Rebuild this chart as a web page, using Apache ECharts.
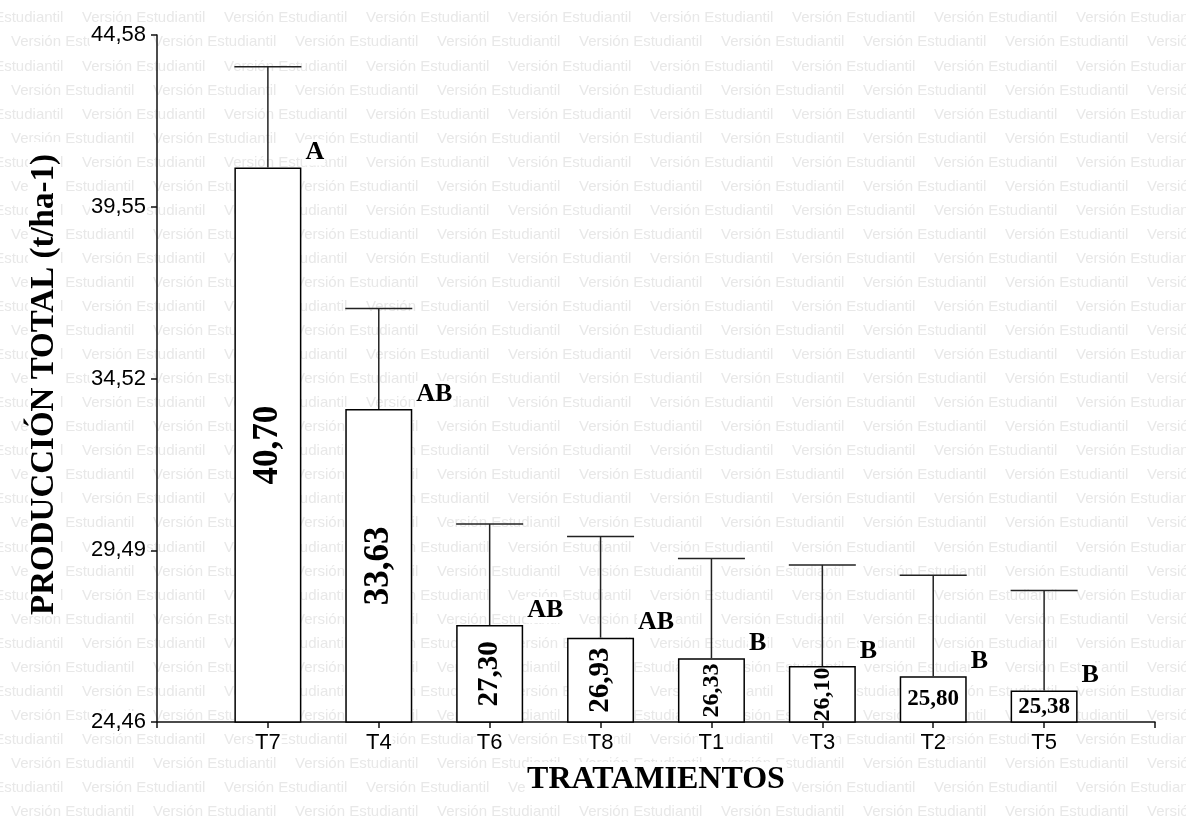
<!DOCTYPE html>
<html><head><meta charset="utf-8">
<script src="https://cdn.jsdelivr.net/npm/echarts@6/dist/echarts.min.js"></script>
<style>html,body{margin:0;padding:0;background:#fff}#c{width:1186px;height:816px}</style>
</head><body><div id="c"></div>
<script>
// ---- data ----
const categories = ['T7', 'T4', 'T6', 'T8', 'T1', 'T3', 'T2', 'T5'];
const means = [40.70, 33.63, 27.30, 26.93, 26.33, 26.10, 25.80, 25.38];
const errorTops = [43.65, 36.57, 30.26, 29.89, 29.25, 29.06, 28.76, 28.31];
const groupLetters = ['A', 'AB', 'AB', 'AB', 'B', 'B', 'B', 'B'];
const yTicks = [24.46, 29.49, 34.52, 39.55, 44.58];
const yTitle = 'PRODUCCIÓN TOTAL (t/ha-1)';
const xTitle = 'TRATAMIENTOS';
const watermarkText = 'Versión Estudiantil';

// ---- styles ----
const valueFont = [35, 35, 29, 29, 24, 24, 23, 23];
const valueRotate = [90, 90, 90, 90, 90, 90, 0, 0];
const SERIF = '"Liberation Serif", "Times New Roman", serif';
const SANS = '"Liberation Sans", Arial, sans-serif';
const fmt = v => Number(v).toFixed(2).replace('.', ',');

const axisCats = [''].concat(categories, ['']);

// watermark
const wm = [];
for (let r = 0; r < 35; r++) {
  const y = 18.3 + 24.05 * r;
  let x = (r % 2 === 0 ? 82 : 11) - 142;
  for (; x < 1200; x += 142) {
    wm.push({ type: 'text', x: x, y: y, z: -10, silent: true,
      style: { text: watermarkText, fill: '#e8e8e8', font: '15px ' + SANS, verticalAlign: 'middle', align: 'left' } });
  }
}

const chart = echarts.init(document.getElementById('c'), null, { renderer: 'canvas' });
chart.setOption({
  animation: false,
  backgroundColor: '#fff',
  graphic: { elements: wm },
  grid: { left: 157, right: 31, top: 35, bottom: 94, containLabel: false, outerBoundsMode: 'none' },
  xAxis: {
    type: 'category',
    data: axisCats,
    boundaryGap: false,
    name: xTitle,
    nameLocation: 'middle',
    nameGap: 40,
    nameTextStyle: { fontFamily: SERIF, fontWeight: 'bold', fontSize: 32, color: '#000', backgroundColor: '#fff', padding: [2, 2] },
    axisLine: { onZero: false, lineStyle: { color: '#111', width: 1.5 } },
    axisTick: { show: true, interval: 0, length: 6, lineStyle: { color: '#111', width: 1.5 } },
    axisLabel: { interval: 0, margin: 10, fontFamily: SANS, fontSize: 22, color: '#000',
      formatter: v => v, backgroundColor: '#fff', padding: [0, 1] },
    splitLine: { show: false }
  },
  yAxis: {
    type: 'value',
    min: yTicks[0],
    max: yTicks[yTicks.length - 1],
    name: yTitle,
    nameLocation: 'middle',
    nameRotate: 90,
    nameGap: 96,
    nameTextStyle: { fontFamily: SERIF, fontWeight: 'bold', fontSize: 33, color: '#000', backgroundColor: '#fff', padding: [0, 12, 0, 0] },
    axisLine: { show: true, lineStyle: { color: '#111', width: 1.5 } },
    axisTick: { show: true, length: 6, customValues: yTicks, lineStyle: { color: '#111', width: 1.5 } },
    axisLabel: { customValues: yTicks, margin: 10, fontFamily: SANS, fontSize: 22, color: '#000',
      formatter: v => fmt(v), backgroundColor: '#fff', padding: [0, 1] },
    splitLine: { show: false }
  },
  series: [
    {
      type: 'bar',
      barWidth: 67,
      clip: true,
      z: 3,
      itemStyle: { color: '#fff', borderColor: '#000', borderWidth: 1.5 },
      label: {
        show: true, position: 'inside', color: '#000', fontFamily: SERIF, fontWeight: 'bold',
        formatter: p => fmt(p.value[1])
      },
      data: means.map((v, i) => ({ value: [i + 1, v], label: { fontSize: valueFont[i], rotate: valueRotate[i] } }))
    },
    {
      type: 'custom',
      z: 4,
      renderItem: (params, api) => {
        const x = api.value(0), m = api.value(1), t = api.value(2);
        const p0 = api.coord([x, m]);
        const p1 = api.coord([x, t]);
        const half = 33.5;
        const st = { stroke: '#222', lineWidth: 1.5 };
        return {
          type: 'group',
          children: [
            { type: 'line', shape: { x1: p0[0], y1: p0[1], x2: p1[0], y2: p1[1] }, style: st },
            { type: 'line', shape: { x1: p1[0] - half, y1: p1[1], x2: p1[0] + half, y2: p1[1] }, style: st },
            { type: 'text', x: p0[0] + half + 3, y: p0[1] - 15,
              style: { text: groupLetters[params.dataIndex], font: 'bold 26px ' + SERIF, fill: '#000',
                align: 'left', verticalAlign: 'middle', backgroundColor: '#fff', padding: [0, 1] } }
          ]
        };
      },
      data: means.map((v, i) => [i + 1, v, errorTops[i]])
    }
  ]
});
</script>
</body></html>
